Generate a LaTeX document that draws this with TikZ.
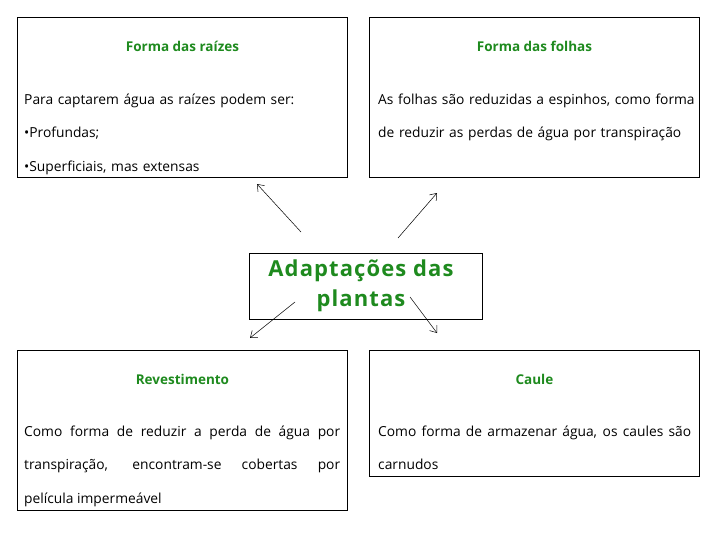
\documentclass[tikz,border=0pt]{standalone}
\usepackage{fontspec}
\setmainfont{Open Sans}
\newfontfamily\titulofont[LetterSpace=5]{Open Sans}
\usepackage{xcolor}
\usepackage{tikz}
\usetikzlibrary{arrows.meta,calc,positioning}
\definecolor{verdeT}{HTML}{1E8A1E}

\begin{document}
\begin{tikzpicture}[
    x=1pt, y=-1pt,
    caixa/.style={draw, line width=0.9pt, minimum width=330pt, inner sep=0pt, anchor=north west},
    titulo/.style={text=verdeT, font=\fontsize{13.5}{16}\selectfont\bfseries, inner sep=0pt, anchor=base},
    corpo/.style={font=\fontsize{13.8}{33.5}\selectfont, inner sep=0pt, anchor=base west, text width=345pt, align=left},
    corpoJ/.style={corpo, align=justify},
    seta/.style={-{Straight Barb[length=6pt,width=9pt]}, line width=0.5pt}
]
\useasboundingbox (0,0) rectangle (728,546);

\node[caixa, minimum height=160pt] (raizes) at (17,17) {};
\node[caixa, minimum height=160pt] (folhas) at (369,17) {};
\node[caixa, minimum height=160pt] (revest) at (17,350) {};
\node[caixa, minimum height=126pt] (caule) at (369,350) {};

\node[titulo] (tRaizes) at ($(raizes.north)+(0,34)$) {Forma das raízes};
\node[titulo] (tFolhas) at ($(folhas.north)+(0,34)$) {Forma das folhas};
\node[titulo] (tRevest) at ($(revest.north)+(0,34)$) {Revestimento};
\node[titulo] (tCaule) at ($(caule.north)+(0,34)$) {Caule};

\node[corpo] (cRaizes) at ($(raizes.north west)+(7,87)$)
    {Para captarem água as raízes podem ser:\\•Profundas;\\•Superficiais, mas extensas};
\node[corpo] (cFolhas) at ($(folhas.north west)+(9,87)$)
    {As folhas são reduzidas a espinhos, como forma\\de reduzir as perdas de água por transpiração};
\node[corpoJ, text width=316pt] (cRevest) at ($(revest.north west)+(7,86)$)
    {Como forma de reduzir a perda de água por\linebreak transpiração, encontram-se cobertas por\linebreak película impermeável};
\node[corpoJ, text width=313pt] (cCaule) at ($(caule.north west)+(9,86)$)
    {Como forma de armazenar água, os caules são\linebreak carnudos};

\node[draw, line width=0.9pt, minimum width=233pt, minimum height=66pt] (centro) at (366,286) {};
\node[align=center, text=verdeT, font=\fontsize{22}{30}\titulofont\bfseries] (tCentro)
    at ($(centro.center)+(-5,0)$) {Adaptações das\\plantas};

\coordinate (s1) at (301,232);
\coordinate (p1) at (257,184);
\coordinate (s2) at (398,238);
\coordinate (p2) at (437,193);
\coordinate (s3) at (295,302);
\coordinate (p3) at (250,338);
\coordinate (s4) at (410,297);
\coordinate (p4) at (437,333);
\draw[seta] (s1) -- (p1);
\draw[seta] (s2) -- (p2);
\draw[seta] (s3) -- (p3);
\draw[seta] (s4) -- (p4);
\end{tikzpicture}
\end{document}
